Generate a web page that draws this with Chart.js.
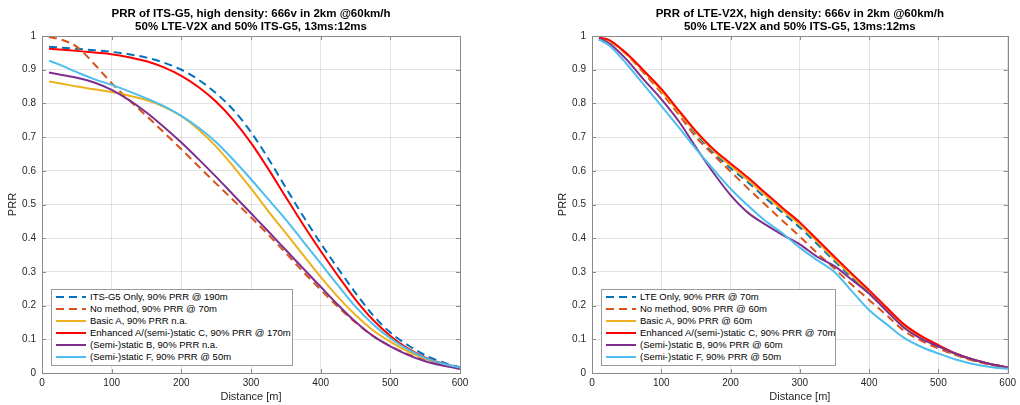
<!DOCTYPE html>
<html>
<head>
<meta charset="utf-8">
<script src="https://cdn.jsdelivr.net/npm/chart.js@4/dist/chart.umd.min.js"></script>
<style>
  body { margin: 0; background: #fff; }
  #wrap { position: relative; width: 1020px; height: 405px; overflow: hidden; }
  canvas { position: absolute; top: 0; }
  #c1 { left: 0; }
  #c2 { left: 510px; }
  .legend { position: absolute; background: #fff; border: 1px solid #9a9a9a; box-sizing: border-box;
            font-family: 'Liberation Sans', Arial, sans-serif; font-size: 9.5px; color: #000; padding-top: 1px; }
  .legend .row { height: 12px; line-height: 12px; white-space: nowrap; display: flex; align-items: center; }
  .legend svg { margin: 0 4px 0 4px; flex: none; }
</style>
</head>
<body>
<div id="wrap">
  <canvas id="c1" width="510" height="405"></canvas>
  <canvas id="c2" width="510" height="405"></canvas>
  <div id="leg1" class="legend" style="left:51px; top:289px; width:242px; height:77px;"></div>
  <div id="leg2" class="legend" style="left:601px; top:289px; width:235px; height:77px;"></div>
</div>
<script>
// distance in metres, shared by every curve
const distance = [10, 25, 50, 75, 100, 125, 150, 175, 200, 225, 250, 275, 300, 325, 350, 375, 400, 425, 450, 475, 500, 525, 550, 575, 600];

// left: PRR of ITS-G5
const g5_itsOnly   = [0.968, 0.966, 0.962, 0.958, 0.953, 0.946, 0.936, 0.921, 0.9, 0.87, 0.83, 0.78, 0.715, 0.636, 0.55, 0.465, 0.385, 0.31, 0.238, 0.172, 0.12, 0.083, 0.053, 0.032, 0.017];
const g5_noMethod  = [0.997, 0.991, 0.968, 0.917, 0.86, 0.81, 0.763, 0.714, 0.664, 0.613, 0.562, 0.512, 0.462, 0.41, 0.356, 0.3, 0.247, 0.196, 0.15, 0.11, 0.08, 0.056, 0.037, 0.024, 0.014];
const g5_basicA    = [0.865, 0.86, 0.85, 0.842, 0.834, 0.823, 0.81, 0.79, 0.762, 0.722, 0.672, 0.612, 0.548, 0.48, 0.415, 0.35, 0.285, 0.225, 0.172, 0.127, 0.093, 0.064, 0.042, 0.026, 0.014];
const g5_enhanced  = [0.962, 0.96, 0.956, 0.951, 0.946, 0.937, 0.925, 0.907, 0.882, 0.848, 0.805, 0.75, 0.683, 0.605, 0.522, 0.44, 0.362, 0.288, 0.218, 0.158, 0.11, 0.073, 0.046, 0.028, 0.016];
const g5_staticB   = [0.892, 0.886, 0.876, 0.862, 0.84, 0.81, 0.773, 0.73, 0.684, 0.634, 0.582, 0.528, 0.474, 0.42, 0.365, 0.31, 0.256, 0.202, 0.152, 0.11, 0.079, 0.054, 0.035, 0.022, 0.012];
const g5_staticF   = [0.927, 0.915, 0.893, 0.872, 0.855, 0.836, 0.815, 0.792, 0.763, 0.728, 0.685, 0.632, 0.575, 0.515, 0.455, 0.39, 0.325, 0.26, 0.197, 0.145, 0.103, 0.07, 0.045, 0.028, 0.016];

// right: PRR of LTE-V2X
const lte_lteOnly  = [0.99, 0.984, 0.948, 0.893, 0.835, 0.772, 0.71, 0.655, 0.608, 0.566, 0.52, 0.476, 0.432, 0.383, 0.332, 0.283, 0.236, 0.186, 0.138, 0.105, 0.078, 0.055, 0.038, 0.026, 0.016];
const lte_noMethod = [0.995, 0.985, 0.945, 0.89, 0.832, 0.768, 0.7, 0.648, 0.598, 0.548, 0.5, 0.452, 0.405, 0.356, 0.31, 0.262, 0.217, 0.172, 0.126, 0.096, 0.073, 0.053, 0.037, 0.025, 0.016];
const lte_basicA   = [0.99, 0.985, 0.946, 0.895, 0.838, 0.775, 0.714, 0.66, 0.615, 0.573, 0.528, 0.483, 0.44, 0.39, 0.338, 0.289, 0.24, 0.19, 0.141, 0.107, 0.08, 0.056, 0.039, 0.026, 0.016];
const lte_enhanced = [0.995, 0.988, 0.948, 0.897, 0.843, 0.78, 0.718, 0.665, 0.622, 0.58, 0.535, 0.49, 0.447, 0.396, 0.345, 0.295, 0.246, 0.195, 0.145, 0.11, 0.083, 0.058, 0.04, 0.027, 0.017];
const lte_staticB  = [0.993, 0.978, 0.93, 0.87, 0.813, 0.748, 0.67, 0.595, 0.528, 0.476, 0.441, 0.41, 0.382, 0.345, 0.317, 0.277, 0.236, 0.185, 0.135, 0.102, 0.079, 0.057, 0.04, 0.027, 0.017];
const lte_staticF  = [0.99, 0.972, 0.917, 0.855, 0.793, 0.73, 0.665, 0.605, 0.547, 0.497, 0.452, 0.415, 0.372, 0.335, 0.3, 0.243, 0.187, 0.145, 0.105, 0.078, 0.058, 0.04, 0.027, 0.018, 0.012];

const xTicks = [0, 100, 200, 300, 400, 500, 600];
const yTicks = [0, 0.1, 0.2, 0.3, 0.4, 0.5, 0.6, 0.7, 0.8, 0.9, 1];

const g5_labels = ['ITS-G5 Only, 90% PRR @ 190m', 'No method, 90% PRR @ 70m', 'Basic A, 90% PRR n.a.',
  'Enhanced A/(semi-)static C, 90% PRR @ 170m', '(Semi-)static B, 90% PRR n.a.', '(Semi-)static F, 90% PRR @ 50m'];
const lte_labels = ['LTE Only, 90% PRR @ 70m', 'No method, 90% PRR @ 60m', 'Basic A, 90% PRR @ 60m',
  'Enhanced A/(semi-)static C, 90% PRR @ 70m', '(Semi-)static B, 90% PRR @ 60m', '(Semi-)static F, 90% PRR @ 50m'];

const colors = ['#0072BD', '#D95319', '#EDB120', '#FF0000', '#7E2F8E', '#4DBEEE'];
const dashed = [true, true, false, false, false, false];
const DASH = [8, 5];

const FONT = "'Liberation Sans', Arial, sans-serif";
Chart.defaults.font.family = FONT;
Chart.defaults.color = '#262626';

function make_datasets(series, labels) {
  return series.map((vals, i) => ({
    label: labels[i],
    data: vals.map((v, k) => ({ x: distance[k], y: v })),
    borderColor: colors[i],
    borderWidth: 2,
    borderDash: dashed[i] ? DASH : [],
    pointRadius: 0,
    cubicInterpolationMode: 'monotone',
    order: series.length - i   // later curves on top, like matlab
  }));
}

// matlab style box with inward ticks on all four sides
const boxPlugin = {
  id: 'box',
  afterDatasetsDraw(chart) {
    const { ctx, chartArea: a, scales } = chart;
    ctx.save();
    ctx.strokeStyle = '#8a8a8a';
    ctx.lineWidth = 1;
    ctx.beginPath();
    xTicks.forEach(t => {
      const px = Math.round(scales.x.getPixelForValue(t)) + 0.5;
      ctx.moveTo(px, a.bottom); ctx.lineTo(px, a.bottom - 4);
      ctx.moveTo(px, a.top); ctx.lineTo(px, a.top + 4);
    });
    yTicks.forEach(t => {
      const py = Math.round(scales.y.getPixelForValue(t)) + 0.5;
      ctx.moveTo(a.left, py); ctx.lineTo(a.left + 4, py);
      ctx.moveTo(a.right, py); ctx.lineTo(a.right - 4, py);
    });
    ctx.stroke();
    ctx.strokeRect(Math.round(a.left) + 0.5, Math.round(a.top) + 0.5, Math.round(a.right - a.left), Math.round(a.bottom - a.top));
    ctx.restore();
  }
};

function make_chart(id, title, series, labels, padLeft, padRight) {
  return new Chart(document.getElementById(id), {
    type: 'line',
    data: { datasets: make_datasets(series, labels) },
    options: {
      responsive: false,
      animation: false,
      layout: { padding: { left: padLeft, right: padRight, top: 0, bottom: 0 } },
      plugins: {
        legend: { display: false },
        tooltip: { enabled: false },
        title: {
          display: true, text: title, fullSize: false, color: '#000',
          font: { size: 11.5, weight: 'bold', lineHeight: 1.15 },
          padding: { top: 7, bottom: 2.6 }
        }
      },
      scales: {
        x: {
          type: 'linear', min: 0, max: 600,
          afterBuildTicks: s => { s.ticks = xTicks.map(v => ({ value: v })); },
          afterFit: s => { s.height = 32; },
          ticks: { font: { size: 10 }, padding: 4, maxRotation: 0 },
          grid: { color: 'rgba(38,38,38,0.13)', drawTicks: false },
          border: { display: false },
          title: { display: true, text: 'Distance [m]', font: { size: 11 }, padding: { top: 0, bottom: 1 } }
        },
        y: {
          type: 'linear', min: 0, max: 1,
          afterBuildTicks: s => { s.ticks = yTicks.map(v => ({ value: v })); },
          afterFit: s => { s.width = 42; },
          ticks: { font: { size: 10 }, padding: 6, callback: v => String(Math.round(v * 10) / 10) },
          grid: { color: 'rgba(38,38,38,0.13)', drawTicks: false },
          border: { display: false },
          title: { display: true, text: 'PRR', font: { size: 11 }, padding: { top: 6, bottom: 0 } }
        }
      }
    },
    plugins: [boxPlugin]
  });
}

function build_legend(el, chart) {
  let html = '';
  chart.data.datasets.forEach(ds => {
    const dash = ds.borderDash.length ? `stroke-dasharray="${ds.borderDash.join(' ')}"` : '';
    html += `<div class="row"><svg width="30" height="6"><line x1="0" y1="3" x2="30" y2="3" stroke="${ds.borderColor}" stroke-width="2" ${dash}/></svg><span>${ds.label}</span></div>`;
  });
  el.innerHTML = html;
}

const chart1 = make_chart('c1', ['PRR of ITS-G5, high density: 666v in 2km @60km/h', '50% LTE-V2X and 50% ITS-G5, 13ms:12ms'],
  [g5_itsOnly, g5_noMethod, g5_basicA, g5_enhanced, g5_staticB, g5_staticF], g5_labels, 0, 50);
const chart2 = make_chart('c2', ['PRR of LTE-V2X, high density: 666v in 2km @60km/h', '50% LTE-V2X and 50% ITS-G5, 13ms:12ms'],
  [lte_lteOnly, lte_noMethod, lte_basicA, lte_enhanced, lte_staticB, lte_staticF], lte_labels, 40, 11);

build_legend(document.getElementById('leg1'), chart1);
build_legend(document.getElementById('leg2'), chart2);
</script>
</body>
</html>
